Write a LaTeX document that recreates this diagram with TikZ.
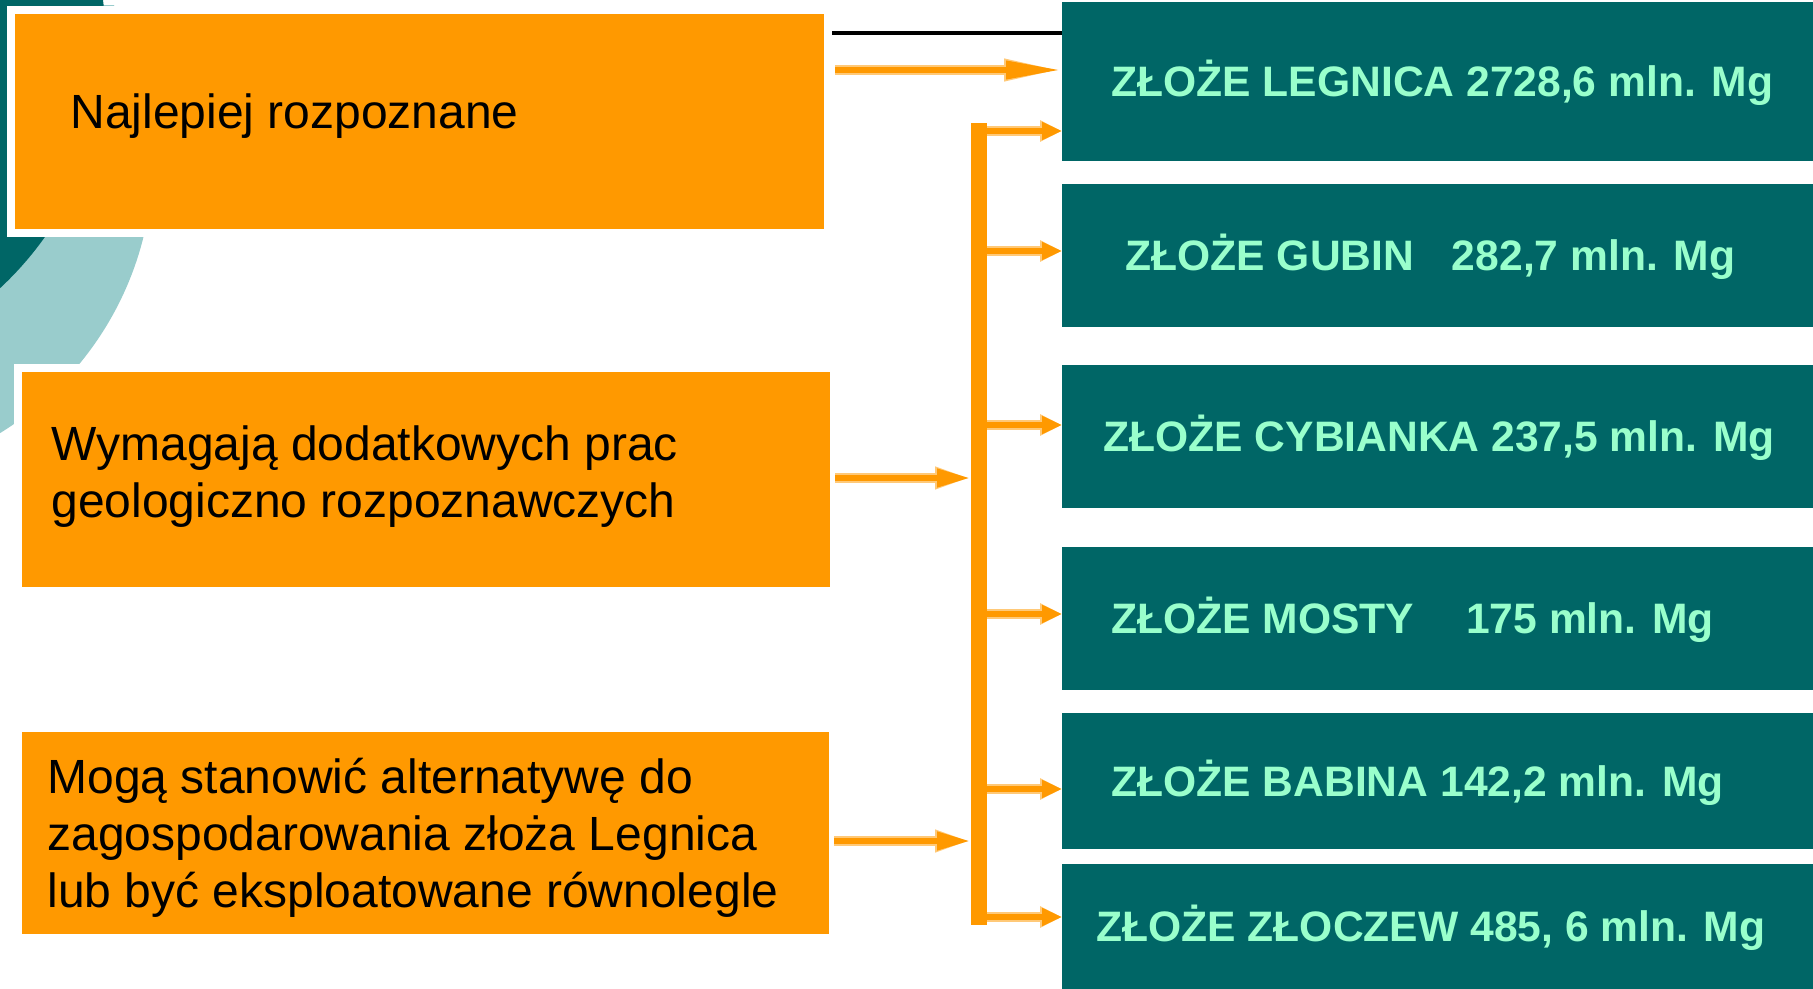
\documentclass[tikz,border=0pt]{standalone}
\usepackage{fontspec}
\setmainfont{Liberation Sans}
\usetikzlibrary{arrows.meta}
\definecolor{orng}{HTML}{FF9900}
\definecolor{dteal}{HTML}{006666}
\definecolor{lteal}{HTML}{99CCCC}
\definecolor{mint}{HTML}{99FFCC}
\definecolor{glow}{HTML}{FFC978}
\begin{document}
\begin{tikzpicture}[x=0.5pt,y=-0.5pt,
  obox/.style={rectangle, fill=orng, inner sep=0pt, outer sep=0pt,
    preaction={draw=white, line width=8pt}},
  tbox/.style={rectangle, fill=dteal, inner sep=0pt, outer sep=0pt, minimum width=375.5pt},
  otext/.style={anchor=base west, inner sep=0pt, font=\fontsize{24pt}{28.5pt}\selectfont},
  ttext/.style={anchor=west, inner sep=0pt, text=mint,
    font=\fontsize{21.3pt}{25pt}\selectfont\bfseries, text height=15.4pt, text depth=0pt},
  barbox/.style={rectangle, fill=orng, inner sep=0pt, outer sep=0pt},
  bigarr/.style={draw=orng, line width=3.4pt, -{Triangle[length=28pt,width=8.5pt]},
    preaction={draw=glow, line width=4.8pt, -{Triangle[length=29pt,width=10pt]}}},
  medarr/.style={draw=orng, line width=3.4pt, -{Triangle[length=17pt,width=8.5pt]},
    preaction={draw=glow, line width=4.8pt, -{Triangle[length=18pt,width=10pt]}}},
  smallarr/.style={draw=orng, line width=3.4pt, -{Triangle[length=10pt,width=8.5pt]},
    preaction={draw=glow, line width=4.8pt, -{Triangle[length=11pt,width=10pt]}}},
]
\useasboundingbox (0,0) rectangle (1813,989);

% background decoration (template circles)
\begin{scope}
  \clip (0,6) rectangle (1813,989);
  \fill[lteal] (-169,159) circle [radius=322];
\end{scope}
\begin{scope}
  \clip (0,0) rectangle (1813,989);
  \fill[dteal] (-226,45) circle [radius=332];
\end{scope}

% orange boxes
\node[obox, minimum width=404.5pt, minimum height=107.5pt] (b1) at (419.5,121.5) {};
\node[obox, minimum width=404pt, minimum height=107.5pt] (b2) at (426,479.5) {};
\node[obox, minimum width=403.5pt, minimum height=101pt] (b3) at (425.5,833) {};

% teal boxes
\node[tbox, minimum height=79.5pt] (t1) at (1437.5,81.5) {};
\node[tbox, minimum height=71.5pt] (t2) at (1437.5,255.5) {};
\node[tbox, minimum height=71.5pt] (t3) at (1437.5,436.5) {};
\node[tbox, minimum height=71.5pt] (t4) at (1437.5,618.5) {};
\node[tbox, minimum height=68pt] (t5) at (1437.5,781) {};
\node[tbox, minimum height=62.5pt] (t6) at (1437.5,926.5) {};

% vertical bar
\node[barbox, minimum width=8pt, minimum height=401pt] (bar) at (979,524) {};

% black line
\coordinate (bl) at (832,33);
\draw[line width=1.6pt] (bl) -- (bl -| t1.west);

% arrows
\coordinate (a1) at (835,70);
\draw[bigarr] (a1) -- (a1 -| t1.west);
\draw[medarr] ([xshift=2.5pt,yshift=0.75pt]b2.east) -- ([yshift=0.75pt]b2.east -| bar.west);
\draw[medarr] ([xshift=2.5pt,yshift=-4pt]b3.east) -- ([yshift=-4pt]b3.east -| bar.west);

\coordinate (s1) at (987,131);
\coordinate (s2) at (987,251);
\coordinate (s3) at (987,425);
\coordinate (s4) at (987,614);
\coordinate (s5) at (987,789);
\coordinate (s6) at (987,917);
\draw[smallarr] (s1) -- (s1 -| t1.west);
\draw[smallarr] (s2) -- (s2 -| t2.west);
\draw[smallarr] (s3) -- (s3 -| t3.west);
\draw[smallarr] (s4) -- (s4 -| t4.west);
\draw[smallarr] (s5) -- (s5 -| t5.west);
\draw[smallarr] (s6) -- (s6 -| t6.west);

% orange texts
\node[otext] (l1) at (70,129) {Najlepiej rozpoznane};
\node[otext] (l2) at (51,460) {\begin{tabular}[t]{@{}l@{}}Wymagają dodatkowych prac\\geologiczno rozpoznawczych\end{tabular}};
\node[otext] (l3) at (47,793) {\begin{tabular}[t]{@{}l@{}}Mogą stanowić alternatywę do\\zagospodarowania złoża Legnica\\lub być eksploatowane równolegle\end{tabular}};

% teal texts
\node[ttext] (x1) at ([xshift=24.5pt]t1.west) {ZŁOŻE LEGNICA 2728,6 mln. Mg};
\node[ttext] (x2) at ([xshift=31.5pt]t2.west) {ZŁOŻE GUBIN\hspace{13pt} 282,7 mln. Mg};
\node[ttext] (x3) at ([xshift=20.5pt]t3.west) {ZŁOŻE CYBIANKA 237,5 mln. Mg};
\node[ttext] (x4) at ([xshift=24.5pt]t4.west) {ZŁOŻE MOSTY\hspace{20pt} 175 mln. Mg};
\node[ttext] (x5) at ([xshift=24.5pt]t5.west) {ZŁOŻE BABINA 142,2 mln. Mg};
\node[ttext] (x6) at ([xshift=17pt]t6.west) {ZŁOŻE ZŁOCZEW 485, 6 mln. Mg};
\end{tikzpicture}
\end{document}
